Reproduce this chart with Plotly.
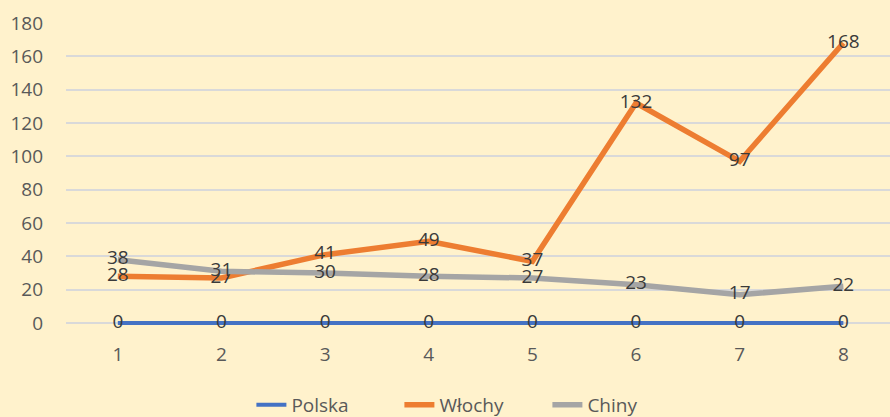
import plotly.graph_objects as go

categories = [1, 2, 3, 4, 5, 6, 7, 8]
polska = [0, 0, 0, 0, 0, 0, 0, 0]
wlochy = [28, 27, 41, 49, 37, 132, 97, 168]
chiny = [38, 31, 30, 28, 27, 23, 17, 22]
y_ticks = [0, 20, 40, 60, 80, 100, 120, 140, 160, 180]

FONT = "Open Sans, Noto Sans, sans-serif"
LABEL_COLOR = "#3A3A3A"
TICK_COLOR = "#595959"
BG = "#FFF2CC"

fig = go.Figure()
series = [
    ("Polska", polska, "#4472C4", 4),
    ("Włochy", wlochy, "#ED7D31", 5.5),
    ("Chiny", chiny, "#A5A5A5", 5.5),
]
for name, vals, color, w in series:
    fig.add_trace(go.Scatter(
        x=categories, y=vals, name=name, mode="lines+text",
        line=dict(color=color, width=w),
        text=[str(v) for v in vals], textposition="middle center",
        textfont=dict(family=FONT, size=19, color=LABEL_COLOR),
        cliponaxis=False,
    ))

fig.update_layout(
    width=890, height=417,
    paper_bgcolor=BG, plot_bgcolor=BG,
    margin=dict(l=66, r=0, t=23, b=89, autoexpand=False),
    font=dict(family=FONT, color=TICK_COLOR, size=19),
    showlegend=True,
    legend=dict(orientation="h", x=0.225, xanchor="left", y=-0.252, yanchor="middle",
                font=dict(family=FONT, size=19, color=TICK_COLOR),
                entrywidth=103, entrywidthmode="pixels",
                bgcolor="rgba(0,0,0,0)"),
    xaxis=dict(range=[0.5, 8.45], tickvals=categories, ticktext=[str(c) for c in categories],
               showgrid=False, zeroline=False, showline=False, automargin=False,
               tickfont=dict(family=FONT, size=19, color=TICK_COLOR), ticks="",
               ticklabelstandoff=13),
    yaxis=dict(range=[-3, 180], tickvals=y_ticks, showgrid=True, gridcolor="#D9D9D9",
               gridwidth=2, zeroline=False, showline=False, automargin=False,
               tickfont=dict(family=FONT, size=19, color=TICK_COLOR), ticks="",
               ticklabelstandoff=22),
)

fig.write_html(
    "out.html",
    config={"displayModeBar": False},
    post_script="document.body.style.margin='0';document.body.style.background='%s';" % BG,
)
